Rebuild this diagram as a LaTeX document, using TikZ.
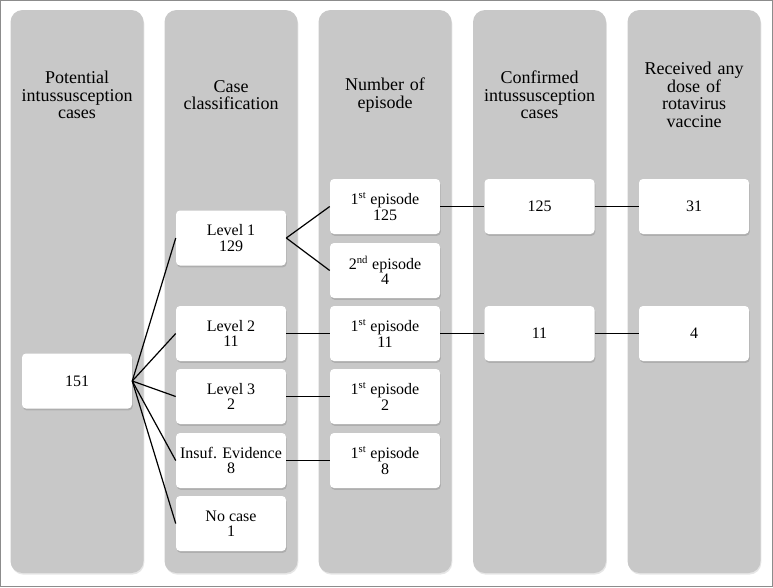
\documentclass[tikz,border=0pt]{standalone}
\usepackage{fontspec}
\setmainfont{Liberation Serif}
\usetikzlibrary{shapes, positioning, calc, shadows}
\definecolor{colgray}{RGB}{200, 200, 200}
\definecolor{framegray}{RGB}{140, 140, 140}

\tikzset{
  lane/.style={fill=colgray, rounded corners=9pt,
    drop shadow={opacity=0.2, shadow xshift=0.6pt, shadow yshift=-1.2pt}},
  countbox/.style={fill=white, rounded corners=3pt, minimum width=82.5pt, minimum height=41.25pt,
    align=center, inner sep=1pt, font=\fontsize{12}{11.5}\selectfont,
    drop shadow={opacity=0.35, shadow xshift=0.6pt, shadow yshift=-1.4pt}},
  headtext/.style={align=center, text width=96pt, font=\fontsize{13.5}{13.1}\selectfont},
  link/.style={line width=0.9pt}
}

\begin{document}
\begin{tikzpicture}[x=0.75pt, y=-0.75pt]
  \useasboundingbox (0,0) rectangle (773,587);
  \draw[framegray, line width=0.8pt] (0.5,0.5) rectangle (772.5,586.5);

  % grey lanes
  \foreach \cx in {77, 231, 385, 539.5, 694}
    \path[lane] (\cx-66.5,10) rectangle (\cx+66.5,573);

  % lane headings
  \node[headtext] (hdpot) at (77,95) {Potential\\intussusception\\cases};
  \node[headtext] (hdclass) at (231,95) {Case\\classification};
  \node[headtext] (hdepis) at (385,95) {Number of\\episode};
  \node[headtext] (hdconf) at (539.5,95) {Confirmed\\intussusception\\cases};
  \node[headtext] (hdvacc) at (694,95) {Received any\\dose of\\rotavirus\\vaccine};

  % boxes
  \node[countbox] (total) at (77,381) {151};

  \node[countbox] (lev1) at (231,238) {Level 1\\129};
  \node[countbox] (lev2) at (231,333.5) {Level 2\\11};
  \node[countbox] (lev3) at (231,396.5) {Level 3\\2};
  \node[countbox] (insuf) at (231,460.5) {Insuf. Evidence\\8};
  \node[countbox] (nocase) at (231,523.5) {No case\\1};

  \node[countbox] (epa) at (385,206.5) {1\textsuperscript{st} episode\\125};
  \node[countbox] (epb) at (385,270.5) {2\textsuperscript{nd} episode\\4};
  \node[countbox] (epc) at (385,333.5) {1\textsuperscript{st} episode\\11};
  \node[countbox] (epd) at (385,396.5) {1\textsuperscript{st} episode\\2};
  \node[countbox] (epe) at (385,460.5) {1\textsuperscript{st} episode\\8};

  \node[countbox] (confa) at (539.5,206.5) {125};
  \node[countbox] (confb) at (539.5,333.5) {11};

  \node[countbox] (vacca) at (694,206.5) {31};
  \node[countbox] (vaccb) at (694,333.5) {4};

  % connectors
  \foreach \b in {lev1, lev2, lev3, insuf, nocase}
    \draw[link] (total.east) -- (\b.west);
  \draw[link] (lev1.east) -- (epa.west);
  \draw[link] (lev1.east) -- (epb.west);
  \draw[link] (lev2) -- (epc);
  \draw[link] (lev3) -- (epd);
  \draw[link] (insuf) -- (epe);
  \draw[link] (epa) -- (confa);
  \draw[link] (epc) -- (confb);
  \draw[link] (confa) -- (vacca);
  \draw[link] (confb) -- (vaccb);
\end{tikzpicture}
\end{document}
